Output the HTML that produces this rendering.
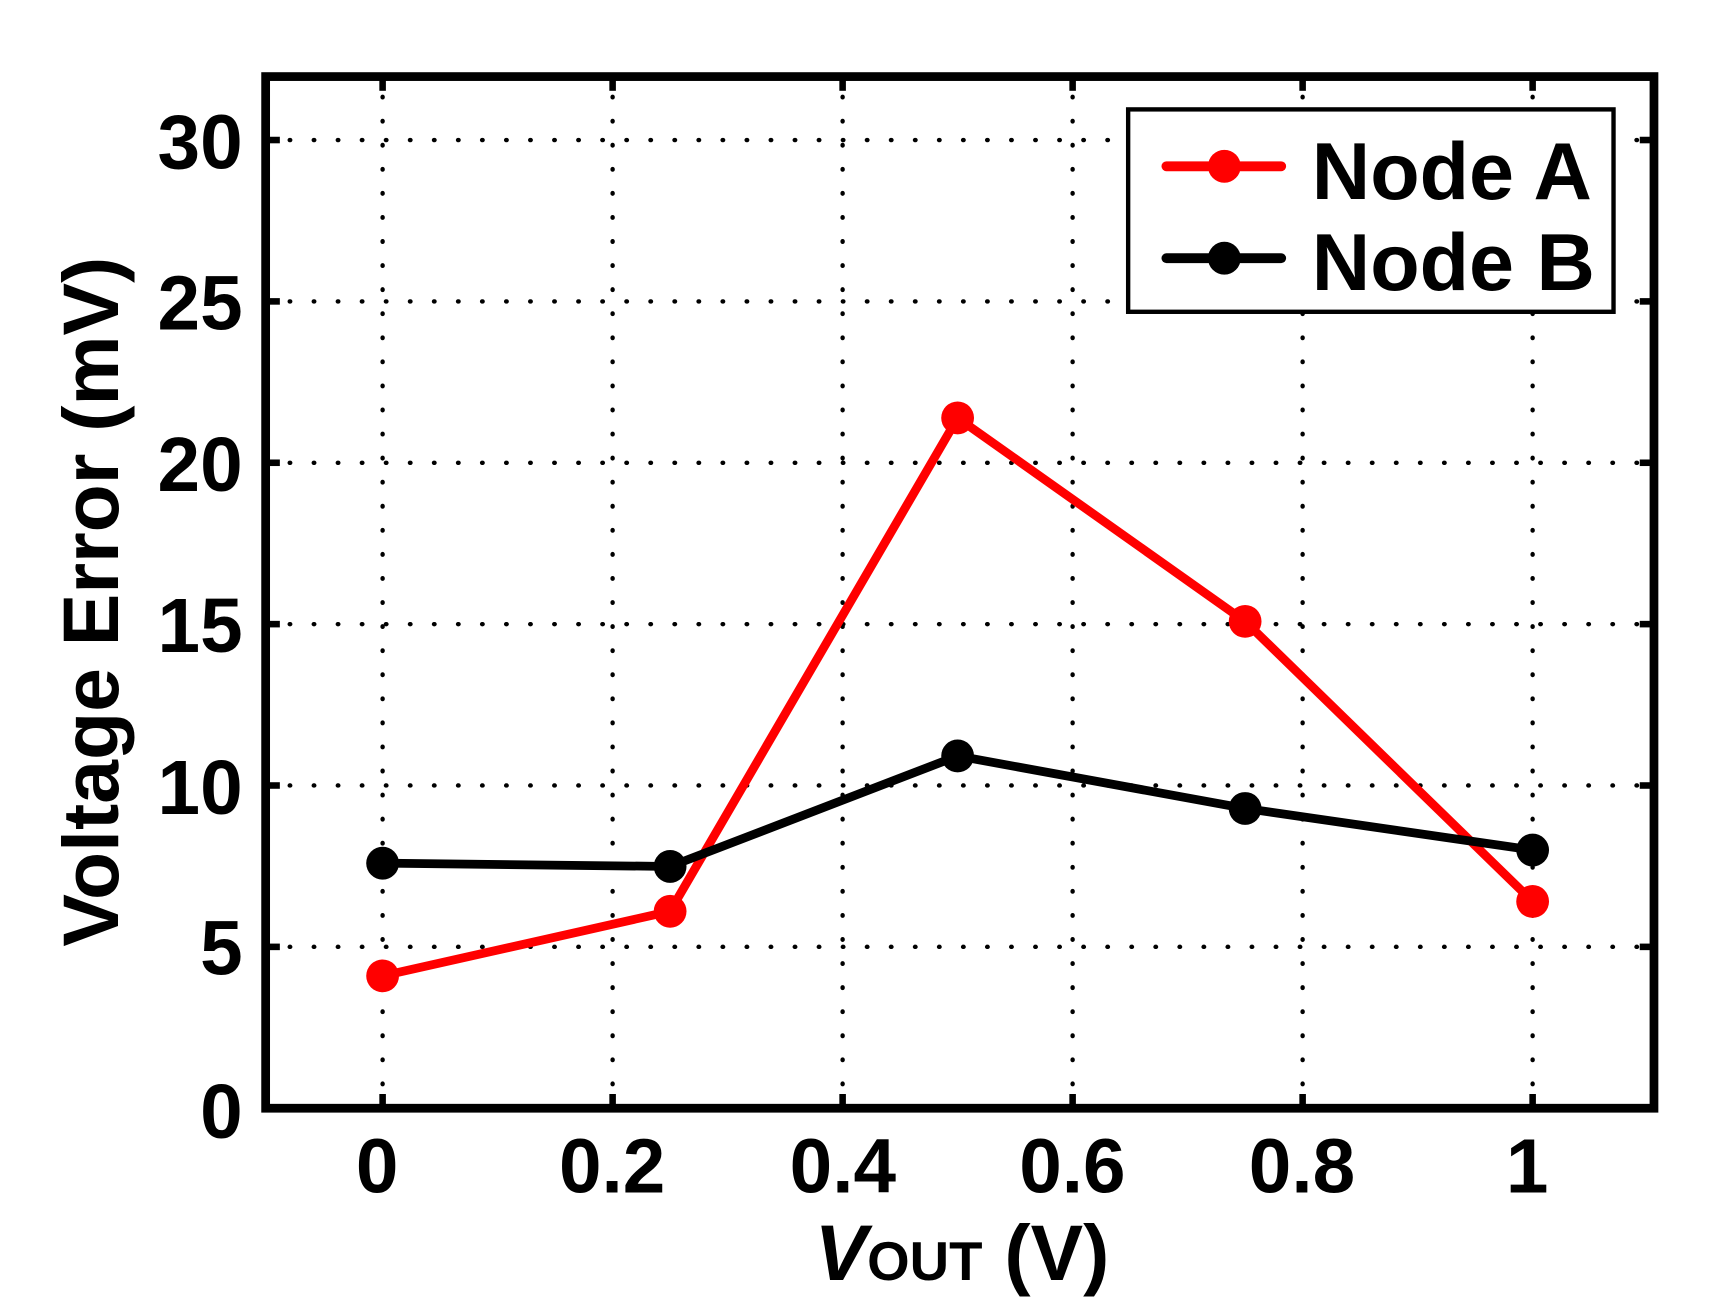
<!DOCTYPE html>
<html><head><meta charset="utf-8"><style>
html,body{margin:0;padding:0;background:#fff;}
svg{display:block;}
text{font-family:"Liberation Sans",Arial,sans-serif;font-weight:bold;fill:#000;}
</style></head><body>
<svg width="1713" height="1315" viewBox="0 0 1567 1202" preserveAspectRatio="none" xmlns="http://www.w3.org/2000/svg">
<rect width="1567" height="1202" fill="#fff"/>
<g stroke="#000" stroke-width="4" stroke-dasharray="0.5 21.5" stroke-linecap="round" fill="none">
<line x1="350" y1="1013" x2="350" y2="70"/>
<line x1="560.4" y1="1013" x2="560.4" y2="70"/>
<line x1="770.8" y1="1013" x2="770.8" y2="70"/>
<line x1="981.2" y1="1013" x2="981.2" y2="70"/>
<line x1="1191.6" y1="1013" x2="1191.6" y2="70"/>
<line x1="1402" y1="1013" x2="1402" y2="70"/>
<line x1="243" y1="865.5" x2="1513" y2="865.5"/>
<line x1="243" y1="718" x2="1513" y2="718"/>
<line x1="243" y1="570.5" x2="1513" y2="570.5"/>
<line x1="243" y1="423" x2="1513" y2="423"/>
<line x1="243" y1="275.5" x2="1513" y2="275.5"/>
<line x1="243" y1="128" x2="1513" y2="128"/>
</g>
<g stroke="#000" stroke-width="6">
<line x1="350" y1="1013" x2="350" y2="1000"/><line x1="350" y1="70" x2="350" y2="83"/>
<line x1="560.4" y1="1013" x2="560.4" y2="1000"/><line x1="560.4" y1="70" x2="560.4" y2="83"/>
<line x1="770.8" y1="1013" x2="770.8" y2="1000"/><line x1="770.8" y1="70" x2="770.8" y2="83"/>
<line x1="981.2" y1="1013" x2="981.2" y2="1000"/><line x1="981.2" y1="70" x2="981.2" y2="83"/>
<line x1="1191.6" y1="1013" x2="1191.6" y2="1000"/><line x1="1191.6" y1="70" x2="1191.6" y2="83"/>
<line x1="1402" y1="1013" x2="1402" y2="1000"/><line x1="1402" y1="70" x2="1402" y2="83"/>
<line x1="243" y1="865.5" x2="256" y2="865.5"/><line x1="1513" y1="865.5" x2="1500" y2="865.5"/>
<line x1="243" y1="718" x2="256" y2="718"/><line x1="1513" y1="718" x2="1500" y2="718"/>
<line x1="243" y1="570.5" x2="256" y2="570.5"/><line x1="1513" y1="570.5" x2="1500" y2="570.5"/>
<line x1="243" y1="423" x2="256" y2="423"/><line x1="1513" y1="423" x2="1500" y2="423"/>
<line x1="243" y1="275.5" x2="256" y2="275.5"/><line x1="1513" y1="275.5" x2="1500" y2="275.5"/>
<line x1="243" y1="128" x2="256" y2="128"/><line x1="1513" y1="128" x2="1500" y2="128"/>
</g>
<rect x="243" y="70" width="1270" height="943" fill="none" stroke="#000" stroke-width="8"/>
<g font-size="70" text-anchor="middle">
<text x="345" y="1090">0</text>
<text x="560" y="1090">0.2</text>
<text x="771" y="1090">0.4</text>
<text x="981" y="1090">0.6</text>
<text x="1191" y="1090">0.8</text>
<text x="1397" y="1090">1</text>
</g>
<g font-size="70" text-anchor="end">
<text x="222" y="1040">0</text>
<text x="222" y="891">5</text>
<text x="222" y="744">10</text>
<text x="222" y="596">15</text>
<text x="222" y="449">20</text>
<text x="222" y="301">25</text>
<text x="222" y="154">30</text>
</g>
<text transform="translate(108,550) rotate(-90)" font-size="72" text-anchor="middle">Voltage Error (mV)</text>
<text x="880" y="1170" font-size="72" text-anchor="middle"><tspan font-style="italic">V</tspan><tspan font-size="50">OUT</tspan> (V)</text>
<g fill="none" stroke-width="8" stroke-linejoin="round">
<polyline stroke="#f00" points="350,892 613,833 876,382 1139,568 1402,824"/>
<polyline stroke="#000" points="350,789 613,792 876,691 1139,739 1402,777"/>
</g>
<g fill="#f00">
<circle cx="350" cy="892" r="15"/><circle cx="613" cy="833" r="15"/><circle cx="876" cy="382" r="15"/><circle cx="1139" cy="568" r="15"/><circle cx="1402" cy="824" r="15"/>
</g>
<g fill="#000">
<circle cx="350" cy="789" r="15"/><circle cx="613" cy="792" r="15"/><circle cx="876" cy="691" r="15"/><circle cx="1139" cy="739" r="15"/><circle cx="1402" cy="777" r="15"/>
</g>
<rect x="1032" y="100" width="444" height="185" fill="#fff" stroke="#000" stroke-width="4"/>
<line x1="1067" y1="152" x2="1172" y2="152" stroke="#f00" stroke-width="9" stroke-linecap="round"/>
<circle cx="1120" cy="152" r="15" fill="#f00"/>
<line x1="1067" y1="236" x2="1172" y2="236" stroke="#000" stroke-width="9" stroke-linecap="round"/>
<circle cx="1120" cy="236" r="15" fill="#000"/>
<text x="1200" y="182" font-size="74">Node A</text>
<text x="1200" y="265" font-size="74">Node B</text>
</svg>
</body></html>
